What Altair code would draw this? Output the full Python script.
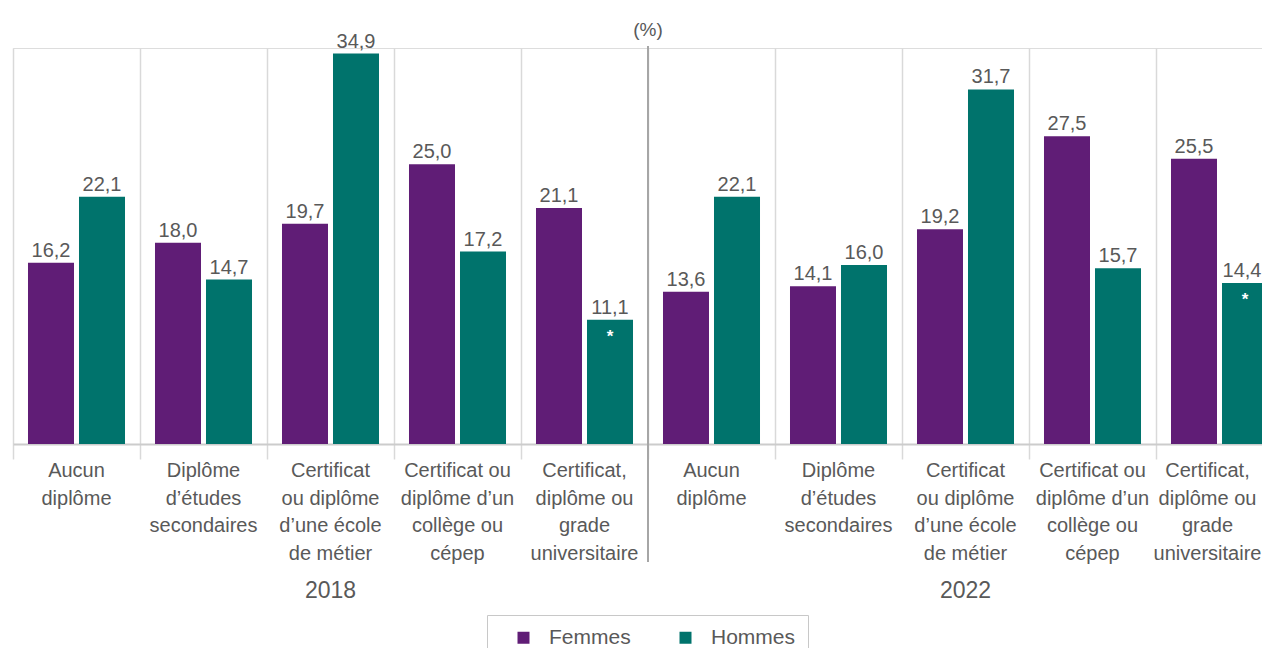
import altair as alt
import pandas as pd

years = ["2018"] * 5 + ["2022"] * 5
categories = [
    "Aucun\ndiplôme",
    "Diplôme\nd’études\nsecondaires",
    "Certificat\nou diplôme\nd’une école\nde métier",
    "Certificat ou\ndiplôme d’un\ncollège ou\ncépep",
    "Certificat,\ndiplôme ou\ngrade\nuniversitaire",
] * 2
femmes = [16.2, 18.0, 19.7, 25.0, 21.1, 13.6, 14.1, 19.2, 27.5, 25.5]
hommes = [22.1, 14.7, 34.9, 17.2, 11.1, 22.1, 16.0, 31.7, 15.7, 14.4]
hommes_flag = ["", "", "", "", "*", "", "", "", "", "*"]
series = ["Femmes", "Hommes"]

PURPLE = "#601d76"
TEAL = "#00736c"
GREY = "#595959"
FONT = "Liberation Sans, Arial, sans-serif"

keys = [f"{y}-{i % 5}" for i, y in enumerate(years)]
last_key = keys[-1]

rows = []
for k, y, c, f, h, fl in zip(keys, years, categories, femmes, hommes, hommes_flag):
    rows.append(dict(key=k, year=y, cat=c, sexe="Femmes", val=f,
                     txt=f"{f:.1f}".replace(".", ","), flag=""))
    rows.append(dict(key=k, year=y, cat=c, sexe="Hommes", val=h,
                     txt=f"{h:.1f}".replace(".", ","), flag=fl))
df = pd.DataFrame(rows)
cats_df = pd.DataFrame(dict(key=keys, cat=categories, year=years))
year_df = pd.DataFrame(dict(year=["2018", "2022"], key=[keys[2], keys[7]]))
mid_df = pd.DataFrame(dict(key=[keys[5]]))

xscale = alt.Scale(domain=keys, range=[0, 1270], paddingInner=0, paddingOuter=0)
yscale = alt.Scale(domain=[0, 35.4])
xoff = alt.XOffset("sexe:N", scale=alt.Scale(domain=series, paddingInner=0.098, paddingOuter=0.294))
xenc = alt.X("key:N", scale=xscale, sort=keys)

base = alt.Chart(df)

bars = base.mark_bar().encode(
    x=alt.X("key:N", scale=xscale, sort=keys,
            axis=alt.Axis(title=None, labels=False, grid=True, bandPosition=0,
                          gridColor="#d9d9d9", gridWidth=1.5, ticks=True, tickSize=15,
                          tickColor="#d9d9d9", tickWidth=1.5, domainColor="#cccccc",
                          domainWidth=2)),
    xOffset=xoff,
    y=alt.Y("val:Q", scale=yscale, axis=None),
    color=alt.Color("sexe:N", scale=alt.Scale(domain=series, range=[PURPLE, TEAL]),
                    legend=alt.Legend(title=None, orient="none", direction="horizontal",
                                      legendX=474, legendY=567, padding=12,
                                      symbolOffset=14,
                                      strokeColor="#c8c8c8",
                                      symbolType="square", symbolSize=144,
                                      symbolStrokeWidth=0, labelFont=FONT,
                                      labelFontSize=21, labelColor=GREY,
                                      labelOffset=15, columnPadding=30)),
)

is_edge = f"datum.key === '{last_key}' && datum.sexe === 'Hommes'"

vals = base.mark_text(font=FONT, fontSize=20, color=GREY, baseline="alphabetic", dy=-6).encode(
    x=xenc, xOffset=xoff, y=alt.Y("val:Q", scale=yscale), text="txt:N",
).transform_filter(f"!({is_edge})")

vals_edge = base.mark_text(font=FONT, fontSize=20, color=GREY, baseline="alphabetic",
                           dy=-6, dx=-3).encode(
    x=xenc, xOffset=xoff, y=alt.Y("val:Q", scale=yscale), text="txt:N",
).transform_filter(is_edge)

stars = base.mark_text(font=FONT, fontSize=17, fontWeight="bold", color="white",
                       baseline="middle", dy=17).encode(
    x=xenc, xOffset=xoff, y=alt.Y("val:Q", scale=yscale), text="flag:N",
)

labels = alt.Chart(cats_df).mark_text(font=FONT, fontSize=20, color=GREY, baseline="alphabetic",
                                      align="center", lineBreak="\n", lineHeight=27.7).encode(
    x=xenc, y=alt.value(429), text="cat:N",
).transform_filter(f"datum.key !== '{last_key}'")

labels_edge = alt.Chart(cats_df).mark_text(font=FONT, fontSize=20, color=GREY, baseline="alphabetic",
                                           align="center", lineBreak="\n", lineHeight=27.7,
                                           dx=-12).encode(
    x=xenc, y=alt.value(429), text="cat:N",
).transform_filter(f"datum.key === '{last_key}'")

year_lbl = alt.Chart(year_df).mark_text(font=FONT, fontSize=23, color=GREY, baseline="alphabetic",
                                        align="center").encode(
    x=xenc, y=alt.value(550), text="year:N",
)

mid = alt.Chart(mid_df).mark_rule(color="#a6a6a6", strokeWidth=2).encode(
    x=alt.X("key:N", scale=xscale, sort=keys, bandPosition=0),
    y=alt.value(-2),
    y2=alt.value(514),
)

pct = alt.Chart(pd.DataFrame(dict(t=["(%)"]))).mark_text(
    font=FONT, fontSize=19, color=GREY, baseline="alphabetic", align="center").encode(
    x=alt.value(635), y=alt.value(-12), text="t:N")

chart = alt.layer(bars, mid, vals, vals_edge, stars, labels, labels_edge, year_lbl, pct).properties(
    width=1249, height=396,
    autosize=alt.AutoSizeParams(type="none"),
    padding={"left": 5, "top": 40, "right": 0, "bottom": 204},
).configure_view(stroke=None).configure(background="white")

chart.save("out.html", embed_options={"renderer": "svg", "actions": False})
